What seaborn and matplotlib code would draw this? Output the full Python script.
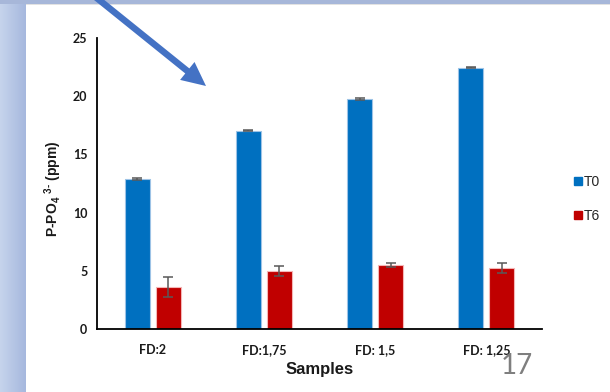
import numpy as np
import pandas as pd
import matplotlib
matplotlib.use("Agg")
import matplotlib.pyplot as plt
import seaborn as sns
from matplotlib.patches import FancyArrow, Rectangle
from matplotlib.lines import Line2D
from matplotlib.colors import LinearSegmentedColormap

# ---- data ----
samples = ["FD:2", "FD:1,75", "FD: 1,5", "FD: 1,25"]
series = ["T0", "T6"]
t0_values = [12.9, 17.05, 19.75, 22.45]
t0_errors = [0.06, 0.06, 0.07, 0.06]
t6_values = [3.6, 4.95, 5.5, 5.2]
t6_errors = [0.85, 0.42, 0.18, 0.43]
y_ticks = [0, 5, 10, 15, 20, 25]

df = pd.DataFrame({
    "Sample": samples * 2,
    "Value": t0_values + t6_values,
    "Time": [series[0]] * 4 + [series[1]] * 4,
})

sns.set_theme(style="white")
plt.rcParams["font.family"] = ["Lato", "DejaVu Sans"]
plt.rcParams["mathtext.fontset"] = "custom"
plt.rcParams["mathtext.rm"] = "Liberation Sans:bold"
plt.rcParams["mathtext.bf"] = "Liberation Sans:bold"
plt.rcParams["mathtext.default"] = "bf"

W, H = 610, 392
fig = plt.figure(figsize=(W / 100, H / 100), dpi=100)
fig.patch.set_facecolor("white")

# ---- slide background decoration ----
bg = fig.add_axes([0, 0, 1, 1], zorder=-10)
bg.axis("off")
grad = np.linspace(0, 1, 50).reshape(1, -1)
cm = LinearSegmentedColormap.from_list("g", ["#c6d4ec", "#a6b8de"])
bg.imshow(grad, extent=(0, 26, H, 0), cmap=cm, aspect="auto")
bg.add_patch(Rectangle((0, 0), W, 3.5, color="#a7b7d9", lw=0))
bg.add_patch(Rectangle((26, 3.5), W - 26, 1.2, color="#e2e2e2", lw=0))
bg.set_xlim(0, W)
bg.set_ylim(H, 0)

# ---- main chart ----
ax = fig.add_axes([97 / W, (H - 329) / H, 445 / W, 291 / H])
ax.patch.set_alpha(0)
palette = {"T0": "#0070C0", "T6": "#C00000"}
sns.barplot(data=df, x="Sample", y="Value", hue="Time", palette=palette,
            width=0.56, gap=0.2, errorbar=None, ax=ax, legend=False,
            saturation=1, linewidth=0.8)

edge = {0: "#9dc3e6", 1: "#f4b6b6"}
for i, cont in enumerate(ax.containers):
    for b in cont:
        b.set_edgecolor(edge[i])
        b.set_linewidth(0.8)

for cont, vals, errs in zip(ax.containers, [t0_values, t6_values], [t0_errors, t6_errors]):
    xs = [b.get_x() + b.get_width() / 2 for b in cont]
    ax.errorbar(xs, vals, yerr=errs, fmt="none", ecolor="#595959",
                elinewidth=1.1, capsize=3.5, capthick=1.1, zorder=5)

ax.set_xlim(-0.5, 3.5)
ax.set_ylim(0, 25)
ax.set_yticks(y_ticks)
ax.set_yticklabels([str(v) for v in y_ticks])
for s in ["top", "right"]:
    ax.spines[s].set_visible(False)
for s in ["left", "bottom"]:
    ax.spines[s].set_color("black")
    ax.spines[s].set_linewidth(1.3)
ax.tick_params(axis="both", length=0, labelsize=9, colors="black")
ax.tick_params(axis="y", pad=7)
ax.tick_params(axis="x", pad=10.5)
for lab in ax.get_xticklabels() + ax.get_yticklabels():
    lab.set_fontweight("bold")
    lab.set_color("#1a1a1a")

ax.set_xlabel("Samples", fontsize=12, fontweight="bold",
              family=["Liberation Sans", "DejaVu Sans"], color="#1a1a1a")
ax.xaxis.set_label_coords(0.5, (329 - 362) / 291)
ax.set_ylabel("P-PO$_4$ $^{3\u2010}$ (ppm)", fontsize=10, fontweight="bold",
              family=["Liberation Sans", "DejaVu Sans"], color="#1a1a1a")
ax.yaxis.set_label_coords((64 - 97) / 445, (329 - 189) / 291)

handles = [Line2D([], [], marker="s", ls="none", markersize=5.5,
                  markerfacecolor=palette[s], markeredgecolor=palette[s]) for s in series]
leg = ax.legend(handles, series, loc="center left", frameon=False,
                bbox_to_anchor=((574 - 97) / 445, (329 - 199) / 291),
                borderaxespad=0, borderpad=0,
                handlelength=0.6, handletextpad=0.1, labelspacing=1.45,
                prop={"family": ["Liberation Sans Narrow", "Liberation Sans"], "size": 10})
for t in leg.get_texts():
    t.set_color("#262626")

# ---- overlay: arrow and slide number ----
ov = fig.add_axes([0, 0, 1, 1], zorder=10)
ov.set_xlim(0, W)
ov.set_ylim(H, 0)
ov.axis("off")
ov.patch.set_alpha(0)
ov.add_patch(FancyArrow(93, -5, 113, 91, width=6.5, head_width=23, head_length=24,
                        length_includes_head=True, color="#4472C4", lw=0))
ov.text(517, 366, "17", fontsize=20, color="#7f7f7f", ha="center", va="center",
        family=["Lato", "DejaVu Sans"], fontweight="normal")

fig.savefig("out.png", dpi=100)
